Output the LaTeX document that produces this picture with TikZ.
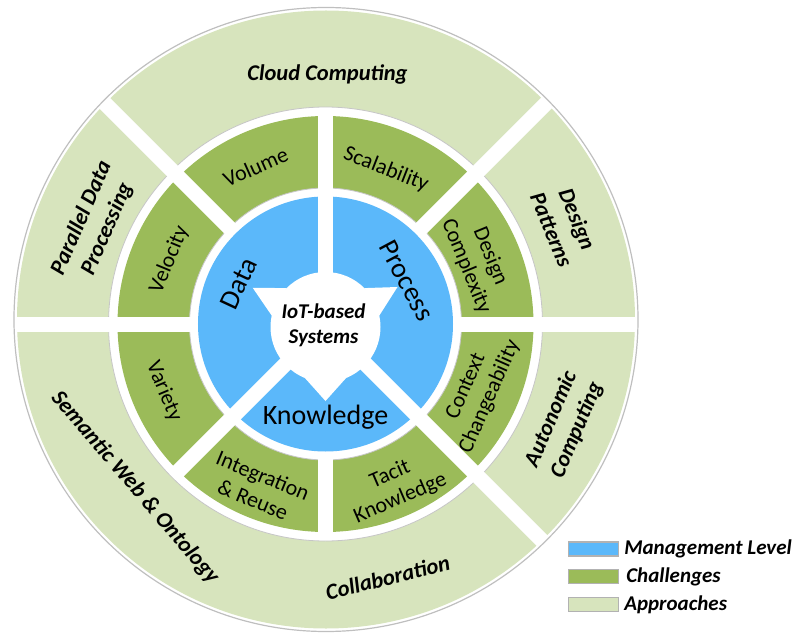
\documentclass[tikz,border=0pt]{standalone}
\usepackage{fontspec}
\setmainfont{Carlito}
\usetikzlibrary{positioning}
\definecolor{mgmtblue}{HTML}{5BB8FA}
\definecolor{chalgreen}{HTML}{9BBB59}
\definecolor{apprgreen}{HTML}{D7E4BD}
\begin{document}
\begin{tikzpicture}[
    x=1pt, y=1pt,
    every node/.style={align=center, inner sep=2pt},
    mgmt text/.style={font=\fontsize{28}{30}\selectfont},
    chal text/.style={font=\fontsize{22}{26}\selectfont},
    appr text/.style={font=\fontsize{22.5}{28}\selectfont\bfseries\itshape},
    gap line/.style={draw=white, line width=15pt},
    ring edge/.style={draw=gray!45, line width=0.8pt},
    legend box/.style={draw=gray!60, line width=1.2pt, minimum width=50pt, minimum height=14pt, inner sep=0pt},
    legend text/.style={font=\fontsize{21}{22}\selectfont\bfseries\itshape},
    ]
\useasboundingbox (-325.5,-310) rectangle (471.5,324);
% rings
\coordinate (O) at (0,0);
\coordinate (rim) at (0.5,4.5);
\fill[apprgreen] (rim) circle (309);
\filldraw[fill=white, ring edge] (O) circle (217);
\fill[chalgreen] (O) circle (208);
\filldraw[fill=white, ring edge] (O) circle (136);
\fill[mgmtblue] (O) circle (127.5);
% gaps between the sectors
\foreach \a/\r/\R in {90/0/212, -135/0/212, -90/131/212, -45/0/316,
                      0/131/316, 45/131/316, 135/131/316, 180/131/316}
  \draw[gap line] (\a:\r) -- (\a:\R);
\draw[draw=gray!50, line width=1.2pt] (rim) circle (312);
% centre
\fill[white] (0,-3) circle (55);
\fill[white] (-72.8,36.2) -- ([shift={(0,-3)}]135:55) -- ([shift={(0,-3)}]168:55) -- cycle;
\fill[white] (72,37) -- ([shift={(0,-3)}]45:55) -- ([shift={(0,-3)}]12:55) -- cycle;
\fill[white] (0,-77) -- ([shift={(0,-3)}]-112:55) -- ([shift={(0,-3)}]-68:55) -- cycle;
\node[font=\fontsize{21}{25}\selectfont\bfseries\itshape] (iot) at (-2,-1) {IoT-based\\Systems};
% management level
\node[mgmt text, rotate=65] (data) at (155:96) {Data};
\node[mgmt text, rotate=-62] (process) at (28:92) {Process};
\node[mgmt text] (knowledge) at (-90:93) {Knowledge};
% challenges
\node[chal text, rotate=24] (volume) at (114:172) {Volume};
\node[chal text, rotate=-21.4] (scalability) at (68.6:166) {Scalability};
\node[chal text, rotate=-67.7] (designcx) at (22.3:165) {Design\\Complexity};
\node[chal text, rotate=66.1] (context) at (-23.9:167) {Context\\Changeability};
\node[chal text, rotate=23.2] (tacit) at (-66.8:177) {Tacit\\Knowledge};
\node[chal text, rotate=-22.4] (integration) at (-112.4:177) {Integration\\\& Reuse};
\node[chal text, rotate=-67.3] (variety) at (-157.3:175) {Variety};
\node[chal text, rotate=67.6] (velocity) at (157.6:169) {Velocity};
% approaches
\node[appr text] (cloud) at (2,249.5) {Cloud Computing};
\node[appr text, rotate=66.5] (parallel) at (156.5:252) {Parallel Data\\Processing};
\node[appr text, rotate=-67.4] (patterns) at (22.6:259) {Design\\Patterns};
\node[appr text, rotate=67] (autonomic) at (-22.85:259) {Autonomic\\Computing};
\node[appr text, rotate=-49.4] (semantic) at (220.6:251) {Semantic Web \& Ontology};
\node[appr text, rotate=13.8] (collab) at (-76.2:261) {Collaboration};
% legend
\node[legend box, fill=mgmtblue] (mgmtbox) at (268,-225) {};
\node[legend box, fill=chalgreen, below=12.5pt of mgmtbox] (chalbox) {};
\node[legend box, fill=apprgreen, below=12.5pt of chalbox] (apprbox) {};
\node[legend text, right=3pt of mgmtbox] (mgmtlabel) {Management Level};
\node[legend text, right=5pt of chalbox] (challabel) {Challenges};
\node[legend text, right=3pt of apprbox] (apprlabel) {Approaches};
\end{tikzpicture}
\end{document}
